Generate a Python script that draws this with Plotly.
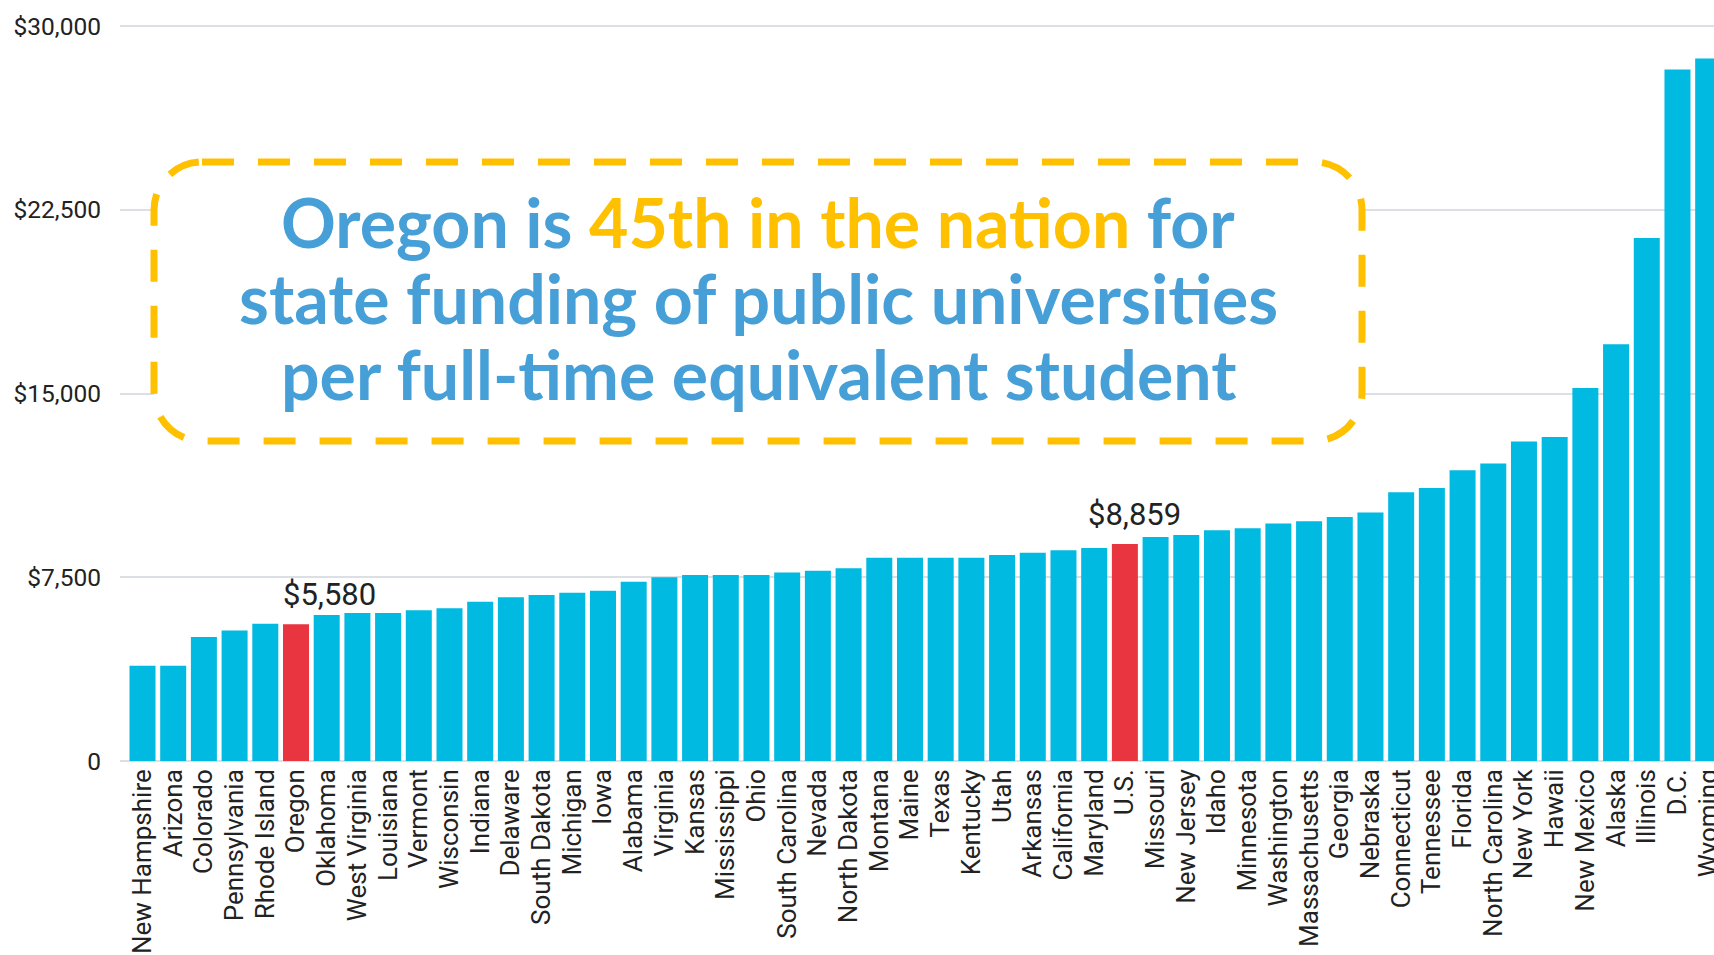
import plotly.graph_objects as go

# State funding for public universities per full-time equivalent student
states = [
    "New Hampshire", "Arizona", "Colorado", "Pennsylvania", "Rhode Island",
    "Oregon", "Oklahoma", "West Virginia", "Louisiana", "Vermont", "Wisconsin",
    "Indiana", "Delaware", "South Dakota", "Michigan", "Iowa", "Alabama",
    "Virginia", "Kansas", "Mississippi", "Ohio", "South Carolina", "Nevada",
    "North Dakota", "Montana", "Maine", "Texas", "Kentucky", "Utah", "Arkansas",
    "California", "Maryland", "U.S.", "Missouri", "New Jersey", "Idaho",
    "Minnesota", "Washington", "Massachusetts", "Georgia", "Nebraska",
    "Connecticut", "Tennessee", "Florida", "North Carolina", "New York",
    "Hawaii", "New Mexico", "Alaska", "Illinois", "D.C.", "Wyoming",
]
funding = [
    3890, 3890, 5060, 5330, 5600,
    5580, 5960, 6040, 6040, 6150, 6230,
    6500, 6680, 6780, 6870, 6950, 7320,
    7500, 7590, 7590, 7590, 7690, 7770,
    7870, 8300, 8300, 8300, 8300, 8410, 8500,
    8600, 8695, 8859, 9145, 9228, 9418,
    9500, 9690, 9786, 9962, 10140,
    10965, 11145, 11865, 12145, 13040,
    13220, 15220, 17010, 21350, 28220, 28670,
]
highlighted = ["Oregon", "U.S."]

tick_vals = [0, 7500, 15000, 22500, 30000]
tick_text = ["0", "$7,500", "$15,000", "$22,500", "$30,000"]

CYAN = "#00BAE2"
RED = "#E8353F"
BLUE_TEXT = "#469FD6"
GOLD = "#FFC000"
GRID = "#DCDFE3"

W, H = 1714, 955
M_L, M_R, M_T, M_B = 120, 0, 19, 194
plot_w = W - M_L - M_R
plot_h = H - M_T - M_B
bottom_px = H - M_B


def px_x(x):
    return (x - M_L) / plot_w


def px_y(y):
    return (bottom_px - y) / plot_h


colors = [RED if s in highlighted else CYAN for s in states]

fig = go.Figure(
    go.Bar(
        x=states,
        y=funding,
        marker=dict(color=colors, line=dict(width=0)),
        hoverinfo="x+y",
    )
)

# value range chosen so $30,000 sits just under the top edge
y_top = 30000 + 7 * 30000 / 735

fig.update_layout(
    width=W,
    height=H,
    margin=dict(l=M_L, r=M_R, t=M_T, b=M_B, pad=0, autoexpand=False),
    paper_bgcolor="white",
    plot_bgcolor="white",
    bargap=0.153,
    showlegend=False,
    font=dict(family="Roboto", color="#222222"),
    xaxis=dict(
        type="category",
        range=[-0.733, 51.19],
        automargin=False,
        tickmode="array",
        tickvals=states,
        ticktext=states,
        tickangle=-90,
        tickfont=dict(family="Roboto", size=26, color="#222222"),
        showgrid=False,
        showline=False,
        ticks="",
        ticklabelstandoff=2,
    ),
    yaxis=dict(
        range=[0, y_top],
        automargin=False,
        tickvals=tick_vals,
        ticktext=tick_text,
        tickfont=dict(family="Roboto", size=24.5, color="#222222"),
        showgrid=True,
        gridcolor=GRID,
        gridwidth=2,
        zeroline=True,
        zerolinecolor=GRID,
        zerolinewidth=2,
        ticks="",
        ticklabelstandoff=18,
    ),
)

# Rounded dashed callout box
L, R, T, B, r = 154, 1362, 162, 441, 48
k = 0.5523 * r


def P(x, y):
    return f"{px_x(x):.5f},{px_y(y):.5f}"


path = (
    f"M {P(L + r, T)} L {P(R - r, T)} "
    f"C {P(R - r + k, T)} {P(R, T + r - k)} {P(R, T + r)} "
    f"L {P(R, B - r)} "
    f"C {P(R, B - r + k)} {P(R - r + k, B)} {P(R - r, B)} "
    f"L {P(L + r, B)} "
    f"C {P(L + r - k, B)} {P(L, B - r + k)} {P(L, B - r)} "
    f"L {P(L, T + r)} "
    f"C {P(L, T + r - k)} {P(L + r - k, T)} {P(L + r, T)} Z"
)
fig.add_shape(
    type="path",
    path=path,
    xref="paper",
    yref="paper",
    fillcolor="white",
    line=dict(color=GOLD, width=7, dash="32px,24px"),
    layer="above",
)

title_lines = [
    f"Oregon is <span style='color:{GOLD}'>45th in the nation</span> for",
    "state funding of public universities",
    "per full-time equivalent student",
]
baselines = [249, 325, 401]
TITLE_SIZE = 68
for line, base in zip(title_lines, baselines):
    fig.add_annotation(
        text=f"<b>{line}</b>",
        xref="paper",
        yref="paper",
        x=px_x(758),
        y=px_y(base + 0.213 * TITLE_SIZE + 1),
        xanchor="center",
        yanchor="bottom",
        showarrow=False,
        font=dict(family="Lato", size=TITLE_SIZE, color=BLUE_TEXT),
    )

# Value labels over the highlighted bars
label_shift = {"Oregon": 33.5, "U.S.": 9.5}
for s in highlighted:
    v = funding[states.index(s)]
    fig.add_annotation(
        text=f"${v:,}",
        x=s,
        y=v,
        xanchor="center",
        yanchor="bottom",
        xshift=label_shift[s],
        yshift=9,
        showarrow=False,
        font=dict(family="Roboto", size=31, color="#222222"),
    )

fig.write_html("out.html")
